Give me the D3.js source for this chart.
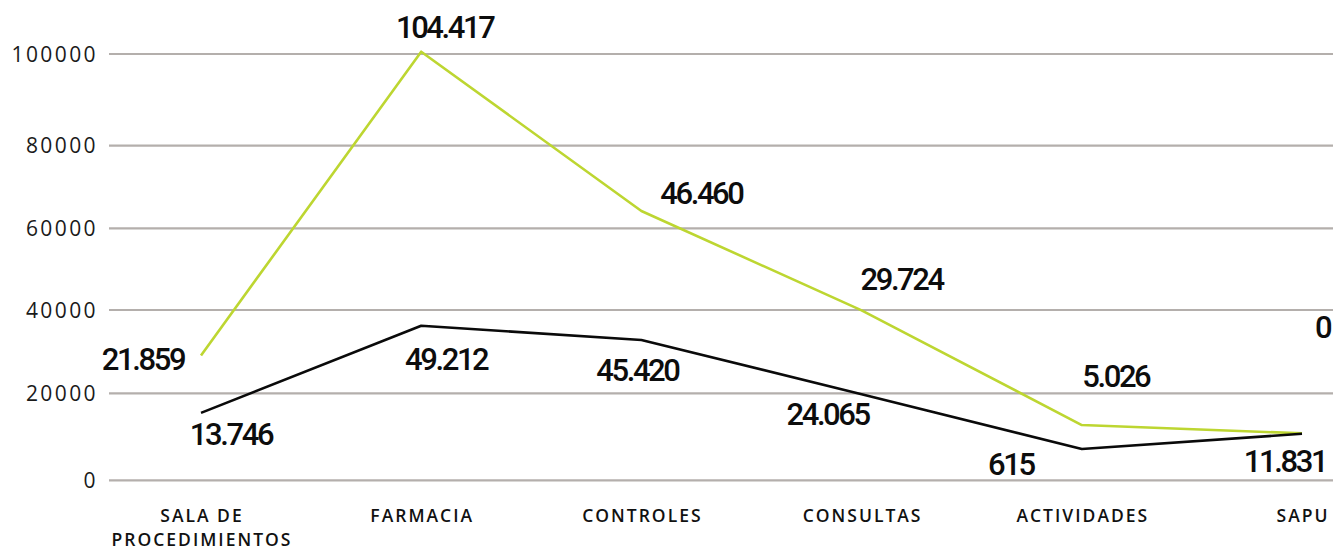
<!DOCTYPE html>
<html><head><meta charset="utf-8">
<script src="https://cdn.jsdelivr.net/npm/d3@7"></script>
<style>
html,body{margin:0;padding:0;background:#fff;}
svg{display:block;}
</style></head>
<body><svg id="chart" width="1333" height="549"></svg>
<script>
// ---- data ----
const categories = ["SALA DE PROCEDIMIENTOS","FARMACIA","CONTROLES","CONSULTAS","ACTIVIDADES","SAPU"];
const greenValues = [29100, 100500, 64200, 39900, 12700, 10800];
const blackValues = [15500, 36200, 32800, 19800, 7200, 10700];
const greenLabels = ["21.859","104.417","46.460","29.724","5.026","0"];
const blackLabels = ["13.746","49.212","45.420","24.065","615","11.831"];
const yTicks = [0, 20000, 40000, 60000, 80000, 100000];

// ---- layout (label offsets from their point) ----
const greenOffsets = [[-58,15],[23.5,-14],[60,-7],[40,-20],[34,-38],[20.5,-95.5]];
const blackOffsets = [[30,32],[25,44],[-4,41],[-34,31],[-71,26],[-17,38]];

const svg = d3.select("#chart");
const x = d3.scalePoint().domain(categories).range([201, 1302]);
const y = d3.scaleLinear().domain(yTicks).range([480.3, 393.3, 310, 228.3, 145.7, 54]);

// gridlines
svg.append("g").selectAll("line").data(yTicks).join("line")
  .attr("x1", 109).attr("x2", 1333)
  .attr("y1", d => y(d)).attr("y2", d => y(d))
  .attr("stroke", "#b4afac").attr("stroke-width", 2.2);

// y tick labels
svg.append("g").selectAll("text").data(yTicks).join("text")
  .attr("x", 98).attr("y", d => y(d) + 7.5)
  .attr("text-anchor", "end")
  .style("font-family", "'Open Sans', sans-serif")
  .style("font-size", "21px").style("letter-spacing", "2.4px")
  .attr("fill", "#1a1a1a")
  .text(d => d);

// x category labels
const xl = svg.append("g").selectAll("text").data(categories).join("text")
  .attr("text-anchor", "middle")
  .style("font-family", "'Open Sans', sans-serif")
  .style("font-weight", 600)
  .style("font-size", "17.5px").style("letter-spacing", "2px")
  .attr("fill", "#111");
xl.each(function(d){
  const t = d3.select(this);
  const words = d === "SALA DE PROCEDIMIENTOS" ? ["SALA DE","PROCEDIMIENTOS"] : [d];
  words.forEach((w,i) => t.append("tspan").attr("x", x(d) + 1).attr("y", 522 + i*23.5).text(w));
});

const line = d3.line().x((d,i) => x(categories[i])).y(d => y(d));
svg.append("path").datum(greenValues).attr("d", line)
  .attr("fill", "none").attr("stroke", "#bdd631").attr("stroke-width", 2.6).attr("stroke-linejoin", "round");
svg.append("path").datum(blackValues).attr("d", line)
  .attr("fill", "none").attr("stroke", "#0a0a0a").attr("stroke-width", 2.6).attr("stroke-linejoin", "round");

function labels(vals, texts, offs){
  svg.append("g").selectAll("text").data(vals).join("text")
    .attr("x", (d,i) => x(categories[i]) + offs[i][0])
    .attr("y", (d,i) => y(d) + offs[i][1])
    .attr("text-anchor", "middle")
    .style("font-family", "Roboto, sans-serif")
    .style("font-weight", 500)
    .style("font-size", "31px").style("letter-spacing", "-2.4px")
    .attr("fill", "#0d0d0d")
    .text((d,i) => texts[i]);
}
labels(greenValues, greenLabels, greenOffsets);
labels(blackValues, blackLabels, blackOffsets);
</script></body></html>
